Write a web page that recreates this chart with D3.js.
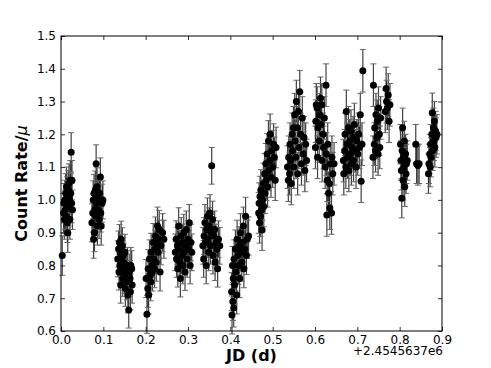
<!DOCTYPE html>
<html>
<head>
<meta charset="utf-8">
<script src="https://cdn.jsdelivr.net/npm/d3@7"></script>
<style>
  body { margin: 0; background: #fff; }
  text { font-family: "DejaVu Sans", sans-serif; }
</style>
</head>
<body>
<svg width="491" height="368"></svg>
<script>
// light curve, one array of [jd offset, count rate] per observing block
var seg1 = [[0.003,0.83],[0.006,0.96],[0.007,0.99],[0.008,0.94],[0.009,1.00],[0.010,0.97],[0.011,1.02],[0.012,0.95],[0.013,1.04],[0.014,1.01],[0.015,0.93],[0.016,0.90],[0.017,1.03],[0.018,0.98],[0.019,1.05],[0.020,1.00],[0.021,0.94],[0.022,1.06],[0.023,1.02],[0.024,1.145],[0.025,0.99],[0.026,1.06],[0.027,0.97]];
var seg2 = [[0.073,0.93],[0.075,0.96],[0.076,1.00],[0.077,0.88],[0.078,1.02],[0.079,0.90],[0.080,0.97],[0.081,1.03],[0.082,0.95],[0.083,1.11],[0.084,0.99],[0.085,1.04],[0.086,0.92],[0.087,1.01],[0.088,0.97],[0.089,1.00],[0.090,0.94],[0.091,1.02],[0.093,1.07],[0.094,0.96],[0.095,0.92],[0.097,0.99],[0.099,1.00]];
var seg3 = [[0.134,0.82],[0.136,0.85],[0.137,0.78],[0.138,0.87],[0.139,0.80],[0.140,0.84],[0.141,0.74],[0.142,0.88],[0.143,0.82],[0.144,0.79],[0.145,0.86],[0.146,0.76],[0.147,0.83],[0.148,0.81],[0.150,0.77],[0.151,0.84],[0.152,0.73],[0.154,0.79],[0.155,0.75],[0.157,0.80],[0.158,0.71],[0.160,0.664],[0.161,0.78],[0.163,0.76],[0.164,0.72],[0.165,0.80],[0.167,0.79],[0.168,0.74]];
var seg4 = [[0.201,0.76],[0.203,0.651],[0.205,0.73],[0.206,0.79],[0.207,0.71],[0.209,0.82],[0.210,0.77],[0.212,0.75],[0.213,0.84],[0.215,0.80],[0.216,0.78],[0.218,0.87],[0.219,0.82],[0.221,0.79],[0.222,0.85],[0.223,0.89],[0.225,0.81],[0.226,0.86],[0.228,0.92],[0.229,0.84],[0.231,0.88],[0.232,0.91],[0.234,0.78],[0.236,0.86],[0.240,0.90],[0.243,0.88]];
var seg5 = [[0.270,0.84],[0.272,0.88],[0.273,0.82],[0.275,0.86],[0.276,0.79],[0.278,0.92],[0.279,0.85],[0.281,0.81],[0.282,0.76],[0.284,0.89],[0.285,0.83],[0.287,0.87],[0.288,0.80],[0.290,0.90],[0.291,0.84],[0.293,0.78],[0.294,0.86],[0.296,0.91],[0.298,0.82],[0.300,0.88],[0.302,0.85],[0.303,0.93],[0.305,0.80],[0.307,0.87],[0.309,0.84]];
var seg6 = [[0.335,0.86],[0.337,0.82],[0.338,0.89],[0.340,0.93],[0.341,0.87],[0.343,0.80],[0.344,0.91],[0.346,0.95],[0.347,0.88],[0.349,0.84],[0.350,0.92],[0.352,0.96],[0.353,0.86],[0.355,0.90],[0.356,1.104],[0.358,0.94],[0.359,0.83],[0.361,0.89],[0.363,0.91],[0.364,0.81],[0.366,0.87],[0.368,0.85],[0.370,0.79],[0.372,0.88],[0.375,0.86]];
var seg7 = [[0.403,0.72],[0.404,0.649],[0.405,0.80],[0.406,0.69],[0.407,0.76],[0.408,0.67],[0.409,0.82],[0.410,0.74],[0.412,0.85],[0.413,0.78],[0.415,0.71],[0.416,0.88],[0.418,0.83],[0.419,0.80],[0.421,0.86],[0.422,0.76],[0.424,0.90],[0.425,0.84],[0.427,0.81],[0.429,0.87],[0.431,0.92],[0.432,0.79],[0.434,0.85],[0.436,0.95],[0.438,0.83],[0.440,0.88],[0.443,0.89]];
var seg8 = [[0.467,0.96],[0.468,0.99],[0.469,0.93],[0.470,1.01],[0.471,0.95],[0.472,1.03],[0.474,0.97],[0.475,0.908],[0.476,1.00],[0.478,1.05],[0.479,0.98],[0.481,1.08],[0.482,1.02],[0.484,1.11],[0.485,1.06],[0.487,1.14],[0.488,1.04],[0.490,1.18],[0.491,1.09],[0.493,1.12],[0.494,1.20],[0.496,1.07],[0.498,1.15],[0.500,1.10],[0.502,1.17],[0.504,1.13],[0.506,1.06],[0.508,1.16]];
var seg9 = [[0.535,1.10],[0.537,1.06],[0.538,1.13],[0.540,1.08],[0.541,1.17],[0.543,1.12],[0.544,1.05],[0.546,1.20],[0.547,1.15],[0.549,1.22],[0.550,1.10],[0.552,1.26],[0.553,1.18],[0.555,1.13],[0.556,1.30],[0.558,1.22],[0.559,1.08],[0.561,1.27],[0.562,1.16],[0.564,1.33],[0.566,1.20],[0.568,1.11],[0.570,1.25],[0.572,1.14],[0.574,1.19],[0.576,1.09],[0.578,1.17],[0.580,1.12]];
var seg10 = [[0.601,1.16],[0.602,1.24],[0.603,1.29],[0.605,1.28],[0.606,1.13],[0.607,1.22],[0.610,1.18],[0.611,1.26],[0.613,1.31],[0.614,1.23],[0.616,1.29],[0.617,1.12],[0.619,1.20],[0.620,1.16],[0.622,1.25],[0.624,1.10],[0.626,1.35],[0.627,1.14],[0.628,0.954],[0.629,1.06],[0.630,1.17],[0.632,1.02],[0.634,1.05],[0.635,0.975],[0.636,1.11],[0.639,0.96],[0.640,1.13],[0.642,1.08],[0.645,1.11]];
var seg11 = [[0.667,1.12],[0.668,1.08],[0.670,1.15],[0.671,1.20],[0.673,1.10],[0.674,1.27],[0.676,1.17],[0.677,1.13],[0.679,1.22],[0.680,1.09],[0.682,1.18],[0.683,1.14],[0.685,1.21],[0.686,1.11],[0.688,1.16],[0.690,1.19],[0.691,1.12],[0.693,1.23],[0.695,1.15],[0.697,1.10],[0.699,1.18],[0.701,1.14],[0.703,1.20],[0.705,1.16],[0.707,1.26],[0.709,1.057],[0.711,1.17],[0.713,1.394]];
var seg12 = [[0.737,1.13],[0.738,1.35],[0.740,1.17],[0.741,1.22],[0.743,1.15],[0.744,1.26],[0.746,1.19],[0.747,1.24],[0.749,1.14],[0.750,1.28],[0.752,1.20],[0.753,1.16],[0.755,1.25],[0.766,1.27],[0.768,1.34],[0.769,1.30],[0.771,1.28],[0.773,1.32],[0.775,1.24],[0.777,1.29]];
var seg13 = [[0.802,1.17],[0.803,1.12],[0.804,1.09],[0.805,1.005],[0.806,1.15],[0.807,1.22],[0.808,1.06],[0.809,1.13],[0.810,1.10],[0.811,1.18],[0.812,1.04],[0.814,1.14],[0.815,1.08],[0.816,1.11],[0.818,1.12]];
var seg14 = [[0.838,1.17],[0.840,1.11],[0.843,1.105],[0.846,1.11]];
var seg15 = [[0.868,1.08],[0.869,1.11],[0.871,1.14],[0.872,1.10],[0.873,1.17],[0.874,1.13],[0.876,1.20],[0.877,1.266],[0.878,1.15],[0.880,1.22],[0.881,1.18],[0.882,1.24],[0.883,1.16],[0.885,1.21],[0.886,1.19],[0.888,1.20]];

var segments = [seg1, seg2, seg3, seg4, seg5, seg6, seg7, seg8, seg9, seg10, seg11, seg12, seg13, seg14, seg15];
// 1-sigma error of each block
var segErr = [0.060, 0.058, 0.055, 0.058, 0.056, 0.056, 0.058, 0.062, 0.065, 0.065, 0.065, 0.065, 0.060, 0.060, 0.060];

var xTicks = [0.0, 0.1, 0.2, 0.3, 0.4, 0.5, 0.6, 0.7, 0.8, 0.9];
var yTicks = [0.6, 0.7, 0.8, 0.9, 1.0, 1.1, 1.2, 1.3, 1.4, 1.5];
var offsetLabel = "+2.4545637e6";

var svg = d3.select("svg"),
    margin = {top: 36, right: 49, bottom: 37, left: 61},
    width = +svg.attr("width") - margin.left - margin.right,
    height = +svg.attr("height") - margin.top - margin.bottom,
    g = svg.append("g").attr("transform", "translate(" + margin.left + "," + margin.top + ")");

var x = d3.scaleLinear().domain([0, 0.9]).range([0, width]);
var y = d3.scaleLinear().domain([0.6, 1.5]).range([height, 0]);

// flatten
var data = [];
segments.forEach(function (s, i) {
    s.forEach(function (p) {
        data.push({jd: p[0], rate: p[1], err: segErr[i]});
    });
});

var bars = g.append("g");
bars.selectAll("line.eb")
    .data(data).enter().append("line")
    .attr("x1", function (d) { return x(d.jd); })
    .attr("x2", function (d) { return x(d.jd); })
    .attr("y1", function (d) { return y(d.rate - d.err); })
    .attr("y2", function (d) { return y(d.rate + d.err); })
    .attr("stroke", "#111")
    .attr("stroke-opacity", 0.8)
    .attr("stroke-width", 1.2);

[-1, 1].forEach(function (sgn) {
    bars.selectAll("line.cap" + sgn)
        .data(data).enter().append("line")
        .attr("x1", function (d) { return x(d.jd) - 3; })
        .attr("x2", function (d) { return x(d.jd) + 3; })
        .attr("y1", function (d) { return y(d.rate + sgn * d.err); })
        .attr("y2", function (d) { return y(d.rate + sgn * d.err); })
        .attr("stroke", "#666")
        .attr("stroke-width", 1);
});

g.append("g").selectAll("circle")
    .data(data).enter().append("circle")
    .attr("cx", function (d) { return x(d.jd); })
    .attr("cy", function (d) { return y(d.rate); })
    .attr("r", 3.5)
    .attr("fill", "#000");

// axes, ticks pointing in like old matplotlib
function style(sel) {
    sel.select(".domain").remove();
    sel.selectAll(".tick line").attr("stroke", "#000").attr("stroke-width", 0.8);
    sel.selectAll("text").attr("font-size", 12).attr("fill", "#000");
}
var fmt = d3.format(".1f");

g.append("g")
    .attr("transform", "translate(0," + height + ")")
    .call(d3.axisBottom(x).tickValues(xTicks).tickFormat(fmt).tickSizeInner(-4).tickPadding(4))
    .call(style);
g.append("g")
    .call(d3.axisTop(x).tickValues(xTicks).tickSizeInner(-4).tickFormat(""))
    .call(style);
g.append("g")
    .call(d3.axisLeft(y).tickValues(yTicks).tickFormat(fmt).tickSizeInner(-4).tickPadding(5))
    .call(style);
g.append("g")
    .attr("transform", "translate(" + width + ",0)")
    .call(d3.axisRight(y).tickValues(yTicks).tickSizeInner(-4).tickFormat(""))
    .call(style);

g.append("rect")
    .attr("width", width).attr("height", height)
    .attr("fill", "none").attr("stroke", "#000").attr("stroke-width", 1);

g.append("text")
    .attr("x", width + 1).attr("y", height + 24)
    .attr("text-anchor", "end")
    .attr("font-size", 12)
    .text(offsetLabel);

g.append("text")
    .attr("x", width / 2).attr("y", height + 30)
    .attr("text-anchor", "middle")
    .attr("font-size", 16).attr("font-weight", "bold")
    .text("JD (d)");

var yl = g.append("text")
    .attr("transform", "translate(-34," + (height / 2) + ") rotate(-90)")
    .attr("text-anchor", "middle")
    .attr("font-size", 16).attr("font-weight", "bold");
yl.append("tspan").text("Count Rate/");
yl.append("tspan").attr("font-style", "italic").attr("font-weight", "normal").text("μ");
</script>
</body>
</html>
